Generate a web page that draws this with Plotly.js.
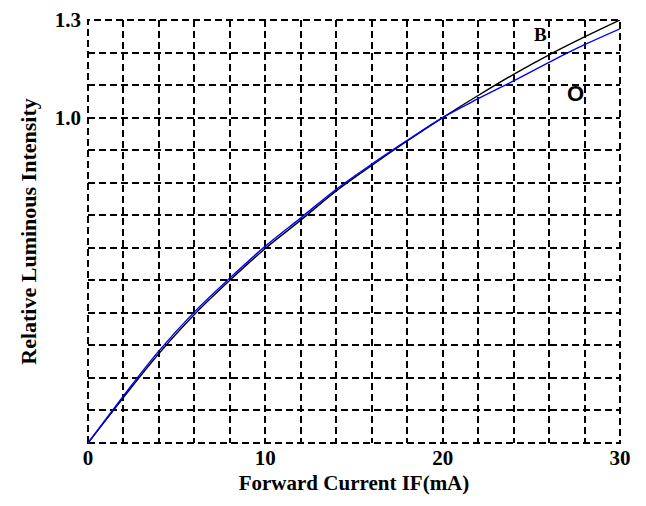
<!DOCTYPE html>
<html>
<head>
<meta charset="utf-8">
<script src="https://cdn.plot.ly/plotly-3.0.1.min.js"></script>
<style>html,body{margin:0;padding:0;background:#fff;}#chart{width:646px;height:506px;}</style>
</head>
<body>
<div id="chart"></div>
<script>
const currentMA = [0, 2, 4, 6, 8, 10, 12, 14, 16, 18, 20, 22, 24, 26, 28, 30];
const intensityB = [0, 0.14, 0.275, 0.395, 0.5, 0.598, 0.685, 0.775, 0.853, 0.928, 1.0, 1.068, 1.133, 1.193, 1.248, 1.3];
const intensityO = [0, 0.145, 0.283, 0.403, 0.507, 0.605, 0.692, 0.78, 0.857, 0.93, 1.0, 1.058, 1.113, 1.17, 1.224, 1.273];
const xTickVals = [0, 10, 20, 30];
const xTickText = ['0', '10', '20', '30'];
const yTickVals = [1.0, 1.3];
const yTickText = ['1.0', '1.3'];
const seriesLabels = ['B', 'O'];
const labelPos = [[25.5, 1.255], [27.5, 1.075]];

const gridStyle = {gridcolor: '#000', gridwidth: 2, griddash: '7px,4px'};
const tickFont = {family: 'Liberation Serif', size: 21, color: '#000', weight: 'bold'};

const traces = [
  {x: currentMA, y: intensityB, mode: 'lines', line: {color: '#000', width: 1.4, shape: 'spline'}, name: 'B'},
  {x: currentMA, y: intensityO, mode: 'lines', line: {color: '#0000ff', width: 1.4, shape: 'spline'}, name: 'O'}
];

const layout = {
  width: 646, height: 506,
  margin: {l: 88, r: 26, t: 20, b: 63},
  paper_bgcolor: '#fff', plot_bgcolor: '#fff',
  showlegend: false,
  xaxis: Object.assign({
    range: [0, 30], tickmode: 'array', tickvals: xTickVals, ticktext: xTickText,
    showgrid: true, zeroline: false, showline: false, ticks: '',
    tickfont: tickFont,
    minor: Object.assign({dtick: 2, tick0: 0, showgrid: true}, gridStyle),
    title: {text: '<b>Forward Current IF(mA)</b>', font: {family: 'Liberation Serif', size: 21, color: '#000'}, standoff: 6}
  }, gridStyle),
  yaxis: Object.assign({
    range: [0, 1.3], tickmode: 'array', tickvals: yTickVals, ticktext: yTickText,
    showgrid: true, zeroline: false, showline: false, ticks: '',
    tickfont: tickFont, ticklabelstandoff: 6,
    minor: Object.assign({dtick: 0.1, tick0: 0, showgrid: true}, gridStyle),
    title: {text: '<b>Relative Luminous Intensity</b>', font: {family: 'Liberation Serif', size: 22, color: '#000'}, standoff: 12}
  }, gridStyle),
  shapes: [{
    type: 'rect', xref: 'paper', yref: 'paper', x0: 0, x1: 1, y0: 0, y1: 1,
    line: {color: '#000', width: 2, dash: '7px,4px'}, layer: 'below'
  }],
  annotations: seriesLabels.map((t, i) => ({
    x: labelPos[i][0], y: labelPos[i][1], xref: 'x', yref: 'y', text: '<b>' + t + '</b>', showarrow: false,
    font: {family: i === 0 ? 'Liberation Serif' : 'Liberation Sans', size: i === 0 ? 19 : 22, color: '#000'}
  }))
};

Plotly.newPlot('chart', traces, layout, {displayModeBar: false, staticPlot: true});
</script>
</body>
</html>
